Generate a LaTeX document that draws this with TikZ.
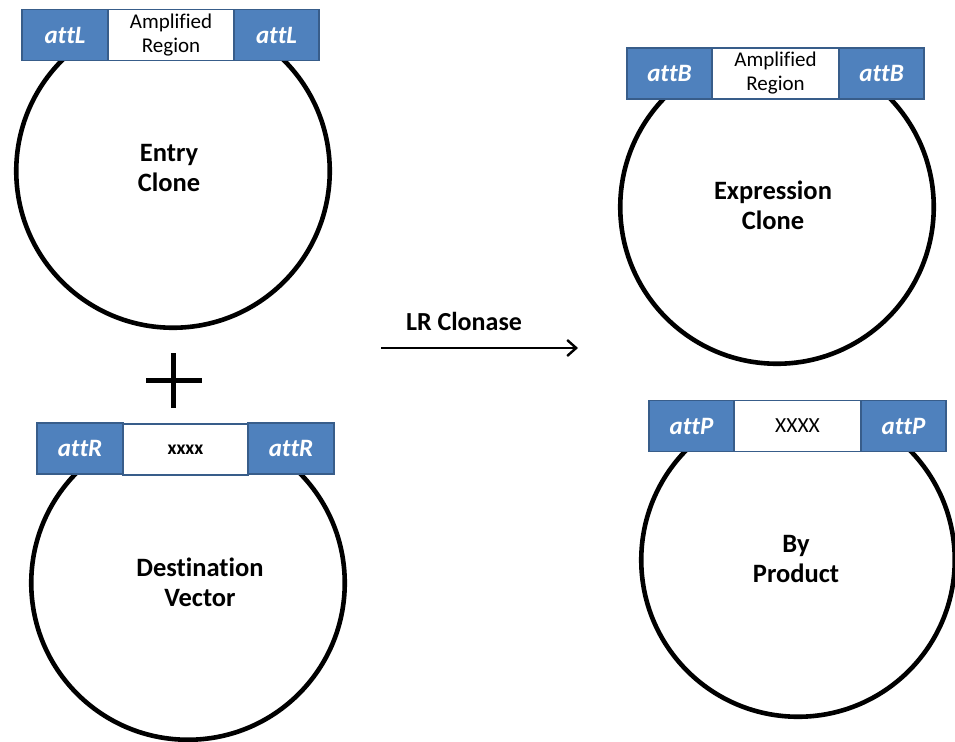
\documentclass[tikz,border=0pt]{standalone}
\usepackage{fontspec}
\setmainfont{Carlito}[Ligatures=NoCommon]
\usetikzlibrary{arrows.meta}

\definecolor{segfill}{HTML}{4F81BD}
\definecolor{segline}{HTML}{385D8A}

\tikzset{
  plasmid/.style={circle, draw=black, line width=4.6pt, minimum size=313.5pt, inner sep=0pt},
  sitebox/.style={rectangle, draw=segline, fill=segfill, line width=1.8pt,
    minimum height=51pt, inner sep=0pt, text=white,
    font=\fontsize{25}{28}\selectfont\bfseries\itshape},
  insertbox/.style={rectangle, draw=segline, fill=white, line width=1.8pt,
    minimum height=51pt, inner sep=0pt, text=black, align=center,
    font=\fontsize{21}{24}\selectfont},
  plabel/.style={align=center, font=\fontsize{26.5}{30}\selectfont\bfseries},
}

\begin{document}
\begin{tikzpicture}[x=1pt, y=-1pt]
\useasboundingbox (0,0) rectangle (955,741);

% plasmid rings
\node[plasmid] (entry) at (173,171) {};
\node[plasmid] (dest)  at (188,583) {};
\node[plasmid] (expr)  at (777,207) {};
\node[plasmid] (byp)   at (798,560) {};

% ring names
\node[plabel] (entrytxt) at (169,168) {Entry\\Clone};
\node[plabel] (desttxt)  at (200,582) {Destination\\Vector};
\node[plabel] (exprtxt)  at (773,205) {Expression\\Clone};
\node[plabel] (byptxt)   at (796,559) {By\\Product};

% entry clone cassette
\node[sitebox,   minimum width=86pt]  (l1) at (65,35)    {attL};
\node[insertbox, minimum width=126pt] (l2) at (171,35)   {Amplified\\Region};
\node[sitebox,   minimum width=85pt]  (l3) at (276.5,35) {attL};

% destination vector cassette
\node[sitebox,   minimum width=86pt]  (r1) at (80,448.5)  {attR};
\node[insertbox, minimum width=125pt, font=\fontsize{19.5}{22}\selectfont\bfseries] (r2) at (185.5,449.5) {xxxx};
\node[sitebox,   minimum width=86pt]  (r3) at (291,448.5) {attR};

% expression clone cassette
\node[sitebox,   minimum width=85pt]  (b1) at (669.5,73.5) {attB};
\node[insertbox, minimum width=127pt] (b2) at (775.5,73.5) {Amplified\\Region};
\node[sitebox,   minimum width=85pt]  (b3) at (881.5,73.5) {attB};

% by-product cassette
\node[sitebox,   minimum width=85pt]  (p1) at (691.5,426) {attP};
\node[insertbox, minimum width=127pt, font=\fontsize{21.5}{24}\selectfont] (p2) at (797.5,426) {XXXX};
\node[sitebox,   minimum width=85pt]  (p3) at (903.5,426) {attP};

% plus sign
\coordinate (plusL) at (146,380);
\coordinate (plusR) at (202,380);
\coordinate (plusT) at (173.5,353);
\coordinate (plusB) at (173.5,408);
\draw[line width=5pt] (plusL) -- (plusR);
\draw[line width=5pt] (plusT) -- (plusB);

% reaction arrow
\coordinate (arrS) at (381,348);
\coordinate (arrE) at (578,348);
\draw[line width=2.4pt, -{Straight Barb[length=9pt, width=16pt, line width=2.4pt]}] (arrS) -- (arrE);
\node[font=\fontsize{26}{28}\selectfont\bfseries] (lr) at (464,321) {LR Clonase};
\end{tikzpicture}
\end{document}
